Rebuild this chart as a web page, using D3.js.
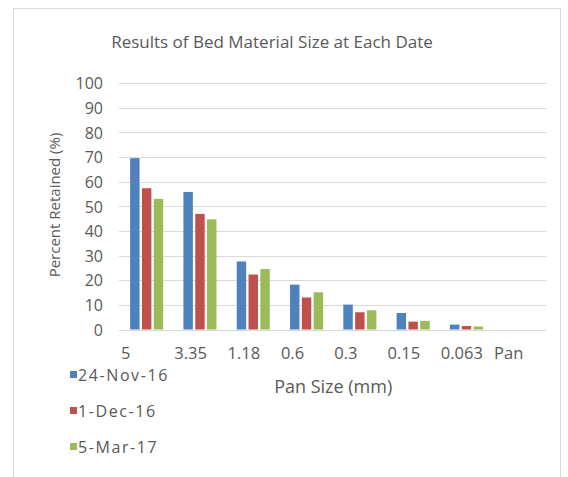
<!DOCTYPE html>
<html>
<head>
<meta charset="utf-8">
<script src="https://cdn.jsdelivr.net/npm/d3@7"></script>
<style>
  html, body { margin: 0; padding: 0; background: #ffffff; }
  svg { display: block; }
  text { font-family: "Open Sans", "Liberation Sans", sans-serif; fill: #595959; }
</style>
</head>
<body>
<svg id="chart" width="568" height="477"></svg>
<script>
// Sieve sizes (mm) and percent retained on each sieve for each sampling date
const categories = ["5", "3.35", "1.18", "0.6", "0.3", "0.15", "0.063", "Pan"];
const seriesNames = ["24-Nov-16", "1-Dec-16", "5-Mar-17"];
const nov24 = [69.5, 55.8, 27.6, 18.2, 10.1, 6.7, 2.0, 0];
const dec1 = [57.3, 46.9, 22.3, 13.0, 7.0, 3.2, 1.4, 0];
const mar5 = [53.0, 44.7, 24.5, 15.1, 7.8, 3.5, 1.2, 0];
const yTicks = [0, 10, 20, 30, 40, 50, 60, 70, 80, 90, 100];
const colors = ["#4F81BD", "#C0504D", "#9BBB59"];

const seriesValues = [nov24, dec1, mar5];

const svg = d3.select("#chart");

// chart frame
svg.append("rect")
  .attr("x", 13.5).attr("y", 8.5)
  .attr("width", 547).attr("height", 475)
  .attr("fill", "#ffffff").attr("stroke", "#d9d9d9").attr("stroke-width", 1);

const plot = { left: 120, right: 546.4, top: 83, bottom: 329.5 };

const x0 = d3.scaleBand()
  .domain(categories)
  .range([plot.left, plot.right])
  .paddingInner(0.38)
  .paddingOuter(0.19);

const x1 = d3.scaleBand()
  .domain(seriesNames)
  .range([0, x0.bandwidth()])
  .paddingInner(0.2);

const y = d3.scaleLinear().domain([0, 100]).range([plot.bottom, plot.top]);

// horizontal gridlines
svg.append("g")
  .selectAll("line")
  .data(yTicks)
  .join("line")
  .attr("x1", plot.left - 1).attr("x2", plot.right)
  .attr("y1", d => Math.round(y(d)) + 0.5).attr("y2", d => Math.round(y(d)) + 0.5)
  .attr("stroke", "#d9d9d9").attr("stroke-width", 1);

// y axis labels
const yAxis = d3.axisLeft(y).tickValues(yTicks).tickSize(0).tickPadding(0);
svg.append("g")
  .attr("transform", `translate(${plot.left - 17},0)`)
  .call(yAxis)
  .call(g => g.select(".domain").remove())
  .call(g => g.selectAll("text")
    .attr("font-size", 16)
    .attr("font-family", "Open Sans")
    .attr("fill", "#595959")
    .attr("dy", "0.36em"));

// bars
const groups = svg.append("g")
  .selectAll("g")
  .data(categories)
  .join("g")
  .attr("transform", c => `translate(${x0(c)},0)`);

groups.selectAll("rect")
  .data((c, i) => seriesNames.map((s, k) => ({ s, k, v: seriesValues[k][i] })))
  .join("rect")
  .attr("x", d => x1(d.s))
  .attr("width", x1.bandwidth())
  .attr("y", d => y(d.v))
  .attr("height", d => y(0) - y(d.v))
  .attr("fill", d => colors[d.k]);

// category labels, set at the start of each band
const outerPad = x0.step() * x0.paddingOuter();
svg.append("g")
  .selectAll("text")
  .data(categories)
  .join("text")
  .attr("x", c => x0(c) - outerPad + 1)
  .attr("y", 359)
  .attr("font-size", 16.5)
  .attr("text-anchor", "start")
  .text(c => c);

// title
svg.append("text")
  .attr("x", 272).attr("y", 48)
  .attr("text-anchor", "middle")
  .attr("font-size", 17)
  .attr("fill", "#404040")
  .text("Results of Bed Material Size at Each Date");

// axis titles
svg.append("text")
  .attr("x", (plot.left + plot.right) / 2).attr("y", 393)
  .attr("text-anchor", "middle")
  .attr("font-size", 18)
  .text("Pan Size (mm)");

svg.append("text")
  .attr("transform", `translate(60,205) rotate(-90)`)
  .attr("text-anchor", "middle")
  .attr("font-size", 15)
  .text("Percent Retained (%)");

// legend
const legend = svg.append("g")
  .selectAll("g")
  .data(seriesNames)
  .join("g")
  .attr("transform", (s, i) => `translate(70,${381 + i * 36})`);

legend.append("rect")
  .attr("x", 0).attr("y", -10)
  .attr("width", 7).attr("height", 7)
  .attr("fill", (s, i) => colors[i]);

legend.append("text")
  .attr("x", 8).attr("y", 0)
  .attr("font-size", 16)
  .attr("letter-spacing", 1.6)
  .text(s => s);
</script>
</body>
</html>
